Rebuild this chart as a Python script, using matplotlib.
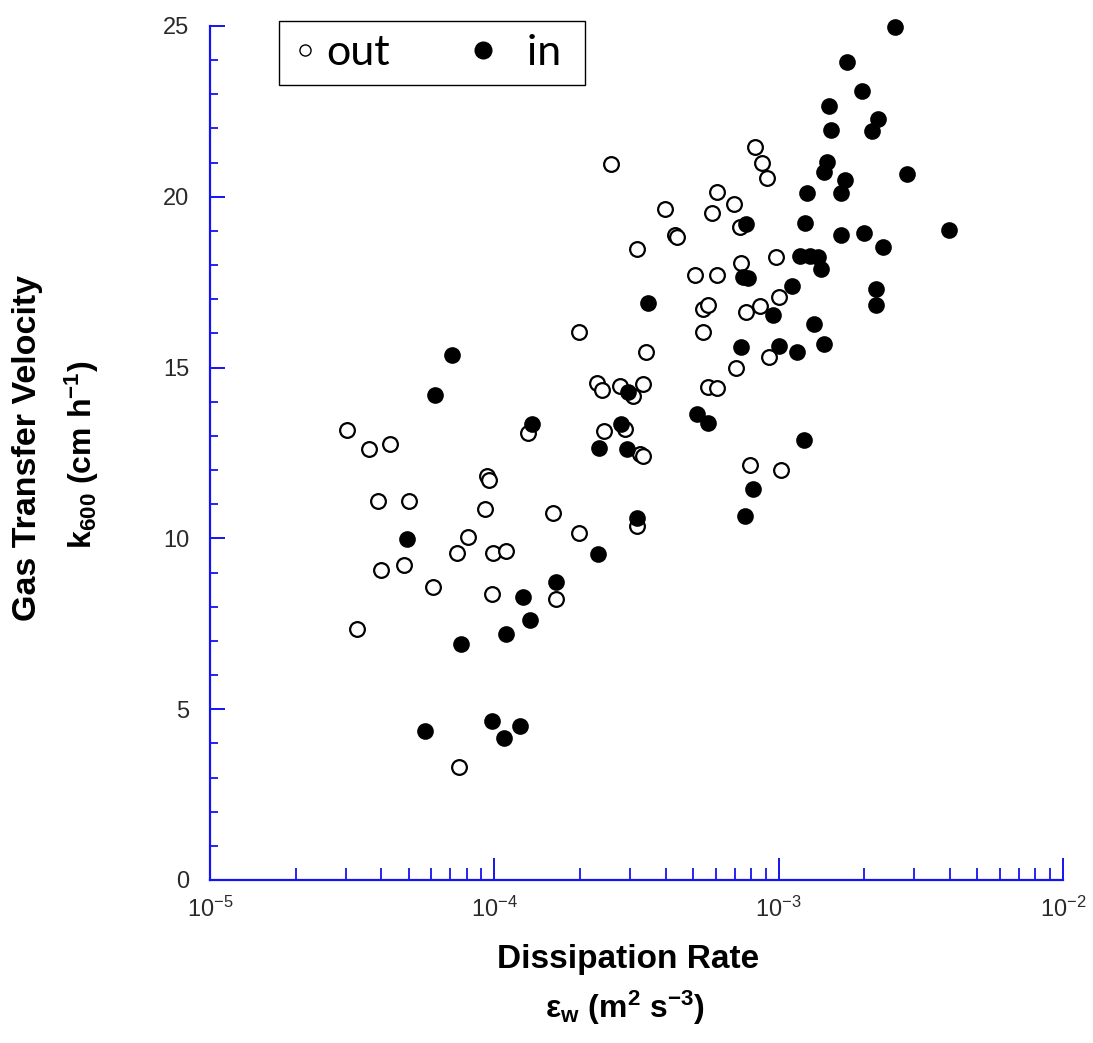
import matplotlib
matplotlib.use('Agg')
import matplotlib.pyplot as plt
from matplotlib.ticker import MultipleLocator, LogLocator, NullFormatter
from matplotlib.lines import Line2D

plt.rcParams['font.family'] = ['Liberation Sans', 'DejaVu Sans']
plt.rcParams['mathtext.fontset'] = 'custom'
plt.rcParams['mathtext.rm'] = 'Liberation Sans'
plt.rcParams['mathtext.it'] = 'Liberation Sans:italic'
plt.rcParams['mathtext.bf'] = 'Liberation Sans:bold'
plt.rcParams['mathtext.default'] = 'regular'
plt.rcParams['axes.unicode_minus'] = False

# dissipation rate (m2 s-3) and k600 (cm h-1)
out_eps = [3.03e-5, 3.29e-5, 3.62e-5, 3.90e-5, 4.30e-5, 3.99e-5, 4.81e-5, 5.01e-5,
           6.09e-5, 7.39e-5, 7.51e-5, 8.08e-5, 9.27e-5, 9.42e-5, 9.58e-5, 9.81e-5,
           9.89e-5, 1.10e-4, 1.31e-4, 1.61e-4, 1.65e-4, 1.99e-4, 1.99e-4, 2.30e-4,
           2.39e-4, 2.43e-4, 2.57e-4, 2.77e-4, 2.88e-4, 3.07e-4, 3.18e-4, 3.18e-4,
           3.26e-4, 3.33e-4, 3.33e-4, 3.42e-4, 3.98e-4, 4.32e-4, 4.39e-4, 5.08e-4,
           5.42e-4, 5.65e-4, 5.42e-4, 5.65e-4, 6.07e-4, 5.83e-4, 6.07e-4, 6.07e-4,
           6.97e-4, 7.08e-4, 7.31e-4, 7.37e-4, 7.68e-4, 7.93e-4, 8.26e-4, 8.60e-4,
           8.74e-4, 9.10e-4, 9.25e-4, 9.79e-4, 1.00e-3, 1.02e-3]
out_k = [13.18, 7.35, 12.63, 11.10, 12.77, 9.08, 9.23, 11.10,
         8.58, 9.58, 3.31, 10.05, 10.87, 11.84, 11.72, 8.38,
         9.58, 9.64, 13.10, 10.75, 8.23, 10.17, 16.03, 14.56,
         14.33, 13.13, 20.95, 14.47, 13.21, 14.18, 10.37, 18.46,
         12.48, 12.42, 14.53, 15.47, 19.63, 18.87, 18.81, 17.70,
         16.73, 16.82, 16.03, 14.42, 14.39, 19.54, 20.13, 17.70,
         19.78, 15.00, 19.13, 18.05, 16.64, 12.16, 21.45, 16.79,
         20.98, 20.54, 15.32, 18.25, 17.08, 12.01]

in_eps = [5.71e-5, 4.93e-5, 6.19e-5, 7.10e-5, 7.64e-5, 9.81e-5, 1.08e-4, 1.23e-4,
          1.10e-4, 1.26e-4, 1.33e-4, 1.36e-4, 1.65e-4, 2.32e-4, 2.34e-4, 2.79e-4,
          2.93e-4, 2.95e-4, 3.18e-4, 3.47e-4, 5.16e-4, 5.65e-4, 7.37e-4, 7.50e-4,
          7.80e-4, 7.68e-4, 7.62e-4, 8.13e-4, 9.56e-4, 1.00e-3, 1.11e-3, 1.16e-3,
          1.23e-3, 1.24e-3, 1.26e-3, 1.19e-3, 1.29e-3, 1.38e-3, 1.33e-3, 1.41e-3,
          1.44e-3, 1.44e-3, 1.48e-3, 1.50e-3, 1.53e-3, 1.66e-3, 1.71e-3, 1.66e-3,
          1.74e-3, 1.96e-3, 2.00e-3, 2.13e-3, 2.24e-3, 2.20e-3, 2.20e-3, 2.33e-3,
          2.57e-3, 2.83e-3, 3.98e-3]
in_k = [4.37, 9.99, 14.21, 15.38, 6.91, 4.66, 4.16, 4.51,
        7.21, 8.29, 7.62, 13.36, 8.73, 9.55, 12.66, 13.36,
        12.63, 14.30, 10.61, 16.88, 13.65, 13.39, 15.59, 17.64,
        17.61, 19.19, 10.67, 11.46, 16.55, 15.62, 17.40, 15.47,
        12.89, 19.22, 20.10, 18.28, 18.28, 18.25, 16.29, 17.90,
        15.68, 20.74, 21.01, 22.65, 21.97, 20.10, 20.48, 18.87,
        23.94, 23.09, 18.93, 21.92, 22.27, 17.29, 16.82, 18.52,
        24.96, 20.66, 19.02]

blue = '#1414f0'
W, H = 1093, 1043

fig = plt.figure(figsize=(W / 100, H / 100), dpi=100)
ax = fig.add_axes([210 / W, 1 - 880 / H, 853 / W, 854 / H])

ax.plot(out_eps, out_k, 'o', ms=10.6, mfc='white', mec='black', mew=1.6, ls='none', clip_on=False)
ax.plot(in_eps, in_k, 'o', ms=10.8, mfc='black', mec='black', mew=1.2, ls='none', clip_on=False)

ax.set_xscale('log')
ax.set_xlim(1e-5, 1e-2)
ax.set_ylim(0, 25)
ax.xaxis.set_major_locator(LogLocator(base=10, numticks=10))
ax.xaxis.set_minor_locator(LogLocator(base=10, subs=range(2, 10), numticks=40))
ax.xaxis.set_minor_formatter(NullFormatter())
ax.yaxis.set_major_locator(MultipleLocator(5))
ax.yaxis.set_minor_locator(MultipleLocator(1))

for side in ['top', 'right']:
    ax.spines[side].set_visible(False)
for side in ['left', 'bottom']:
    ax.spines[side].set_color(blue)
    ax.spines[side].set_linewidth(1.6)

ax.tick_params(axis='x', which='major', direction='in', length=16, width=1.4, color=blue,
               pad=12, labelsize=17, labelcolor='#2a2a2a')
ax.tick_params(axis='x', which='minor', direction='in', length=9, width=1.3, color=blue)
ax.tick_params(axis='y', which='major', direction='in', length=11, width=1.4, color=blue,
               pad=15, labelsize=17, labelcolor='#2a2a2a')
ax.tick_params(axis='y', which='minor', direction='in', length=6, width=1.3, color=blue)

fig.text(628 / W, 1 - 968 / H, 'Dissipation Rate', ha='center', va='baseline',
         fontsize=24, fontweight='bold')
fig.text(625 / W, 1 - 1018 / H, r'ε$_{w}$ (m$^{2}$ s$^{-3}$)', ha='center', va='baseline',
         fontsize=23, fontweight='bold')
fig.text(28 / W, 1 - 448 / H, 'Gas Transfer Velocity', ha='center', va='center',
         rotation=90, fontsize=24.5, fontweight='bold')
fig.text(82 / W, 1 - 455 / H, r'k$_{600}$ (cm h$^{-1}$)', ha='center', va='center',
         rotation=90, fontsize=23, fontweight='bold')

h_out = Line2D([], [], ls='none', marker='o', ms=8, mfc='white', mec='black', mew=1)
h_in = Line2D([], [], ls='none', marker='o', ms=12, mfc='black', mec='black')
leg = fig.legend([h_out, h_in], ['out', '  in '], loc='upper left',
                 bbox_to_anchor=(279 / W, 1 - 21 / H), ncol=2, frameon=True, fancybox=False,
                 edgecolor='black', framealpha=1, borderpad=0.3, handlelength=0.6,
                 handletextpad=0.2, columnspacing=1.86, borderaxespad=0,
                 prop={'family': 'Lato', 'size': 31})
leg.get_frame().set_linewidth(1.0)

fig.savefig('out.png', dpi=100)
